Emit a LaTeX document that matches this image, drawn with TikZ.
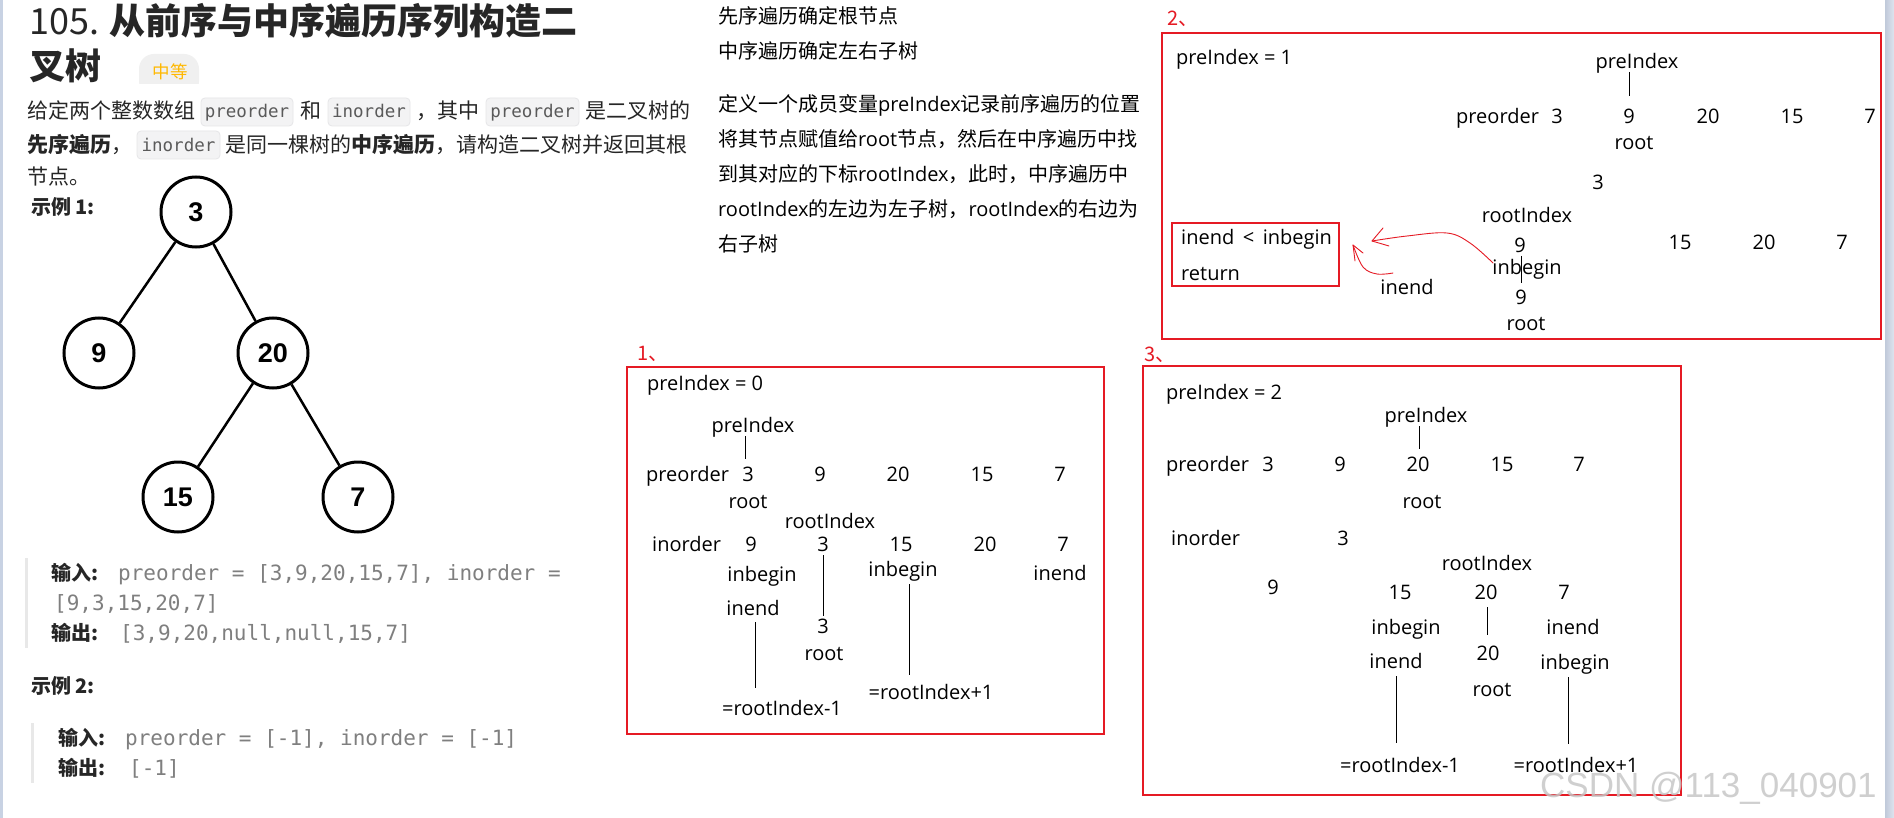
\documentclass[tikz,border=0pt]{standalone}
\usepackage{fontspec}
\setmainfont{Open Sans}
\newfontfamily\cjk{Noto Sans CJK SC}
\newfontfamily\monof{DejaVu Sans Mono}
\newfontfamily\arialf{Liberation Sans}
\definecolor{redline}{HTML}{E51A24}
\definecolor{txt}{HTML}{262626}
\definecolor{codebg}{HTML}{F3F3F4}
\definecolor{codebd}{HTML}{E6E6E8}
\definecolor{codetx}{HTML}{5A5A5A}
\definecolor{extx}{HTML}{7F7F7F}
\definecolor{badgebg}{HTML}{F0F0F0}
\definecolor{badgetx}{HTML}{FFB800}
\definecolor{strip}{HTML}{C8D2E3}
\definecolor{barc}{HTML}{E8E8E8}
\tikzset{
  lbl/.style={inner sep=0pt, anchor=base, yshift=-7pt, font=\fontsize{20}{24}\selectfont},
  lblw/.style={lbl, anchor=base west},
  redtxt/.style={inner sep=0pt, anchor=base west, yshift=-8pt, text=redline, font=\cjk\fontsize{20}{24}\selectfont},
  mtxt/.style={inner sep=0pt, anchor=base west, font=\fontsize{20}{24}\selectfont},
  frame/.style={draw=redline, line width=1.2pt},
  vl/.style={line width=1pt},
  redarrow/.style={draw=redline, line width=0.9pt, line cap=round, line join=round},
  body/.style={inner sep=0pt, anchor=base west, text=txt, font=\cjk\fontsize{21}{25}\selectfont},
  chip/.style={fill=codebg, draw=codebd, line width=0.8pt, rounded corners=4pt},
  chiptx/.style={inner sep=0pt, anchor=base, text=codetx, font=\monof\fontsize{17.5}{20}\selectfont},
  tnode/.style={circle, draw, line width=3pt, minimum size=70pt, inner sep=0pt, font=\arialf\bfseries\fontsize{27}{30}\selectfont},
  tedge/.style={line width=2.5pt},
  exlab/.style={inner sep=0pt, anchor=base west, text=txt, font=\cjk\bfseries\fontsize{20}{24}\selectfont},
  exmono/.style={inner sep=0pt, anchor=base west, text=extx, font=\monof\fontsize{21}{25}\selectfont},
}
\begin{document}
\begin{tikzpicture}[x=1pt,y=-1pt]
\useasboundingbox (0,0) rectangle (1894,818);
\fill[white] (0,0) rectangle (1894,818);
\fill[strip] (0,0) rectangle (3,818);
\shade[left color=strip!80!black!20!strip, right color=strip!60] (1885,0) rectangle (1894,818);

% ---------- left: problem ----------
\node[inner sep=0pt, anchor=base west, text=txt, font=\cjk\fontsize{36}{40}\selectfont] (title1) at (29,35) {105. \textbf{从前序与中序遍历序列构造二}};
\node[inner sep=0pt, anchor=base west, text=txt, font=\cjk\bfseries\fontsize{36}{40}\selectfont] (title2) at (29,80) {叉树};
\begin{scope}
  \clip (130,50) rectangle (210,83.5);
  \fill[badgebg, rounded corners=15pt] (139,54) rectangle (199,96);
\end{scope}
\node[inner sep=0pt, anchor=base, text=badgetx, font=\cjk\fontsize{17.5}{20}\selectfont] (badge) at (170,78.5) {中等};

% description line 1
\node[body] (d1a) at (27,119) {给定两个整数数组};
\draw[chip] (201,98) rectangle (293,126);
\node[chiptx] (c1) at (247,118) {preorder};
\node[body] (d1b) at (300,119) {和};
\draw[chip] (328,98) rectangle (410,126);
\node[chiptx] (c2) at (369,118) {inorder};
\node[body] (d1c) at (416,119) {，其中};
\draw[chip] (486,98) rectangle (579,126);
\node[chiptx] (c3) at (532.5,118) {preorder};
\node[body] (d1d) at (585,119) {是二叉树的};
% line 2
\node[body] (d2a) at (27,153) {\textbf{先序遍历}，};
\draw[chip] (137,131) rectangle (220,159);
\node[chiptx] (c4) at (178.5,152) {inorder};
\node[body] (d2b) at (225,153) {是同一棵树的\textbf{中序遍历}，请构造二叉树并返回其根};
% line 3
\node[body] (d3) at (27,185) {节点。};

\node[exlab] (ex1) at (31,215) {示例 1:};

% tree
\node[tnode] (n3) at (196,212) {3};
\node[tnode] (n9) at (99,353) {9};
\node[tnode] (n20) at (273,353) {20};
\node[tnode] (n15) at (178,497) {15};
\node[tnode] (n7) at (358,497) {7};
\draw[tedge] (n3) -- (n9);
\draw[tedge] (n3) -- (n20);
\draw[tedge] (n20) -- (n15);
\draw[tedge] (n20) -- (n7);

% example 1 block
\fill[barc] (25,558) rectangle (28,648);
\node[exlab] (in1) at (51,580) {输入:};
\node[exmono] (in1t) at (118,580) {preorder = [3,9,20,15,7], inorder =};
\node[exmono] (in1u) at (54,610) {[9,3,15,20,7]};
\node[exlab] (out1) at (51,640) {输出:};
\node[exmono] (out1t) at (120,640) {[3,9,20,null,null,15,7]};

\node[exlab] (ex2) at (31,693) {示例 2:};
\fill[barc] (31,723) rectangle (34,783);
\node[exlab] (in2) at (58,745) {输入:};
\node[exmono] (in2t) at (125,745) {preorder = [-1], inorder = [-1]};
\node[exlab] (out2) at (58,775) {输出:};
\node[exmono] (out2t) at (129,775) {[-1]};

% ---------- middle notes ----------
\node[mtxt] (m1) at (718,24) {\cjk 先序遍历确定根节点};
\node[mtxt] (m2) at (718,58.5) {\cjk 中序遍历确定左右子树};
\node[mtxt] (m3) at (718,111.5) {{\cjk 定义一个成员变量}preIndex{\cjk 记录前序遍历的位置}};
\node[mtxt] (m4) at (718,146.5) {{\cjk 将其节点赋值给}root{\cjk 节点，然后在中序遍历中找}};
\node[mtxt] (m5) at (718,181.5) {{\cjk 到其对应的下标}rootIndex{\cjk ，此时，中序遍历中}};
\node[mtxt] (m6) at (718,216.5) {rootIndex{\cjk 的左边为左子树，}rootIndex{\cjk 的右边为}};
\node[mtxt] (m7) at (718,251.5) {\cjk 右子树};

% ---------- panel 1 ----------
\node[redtxt] (t1) at (637,352) {1、};
\draw[frame] (627,367) rectangle (1104,734);
\node[lblw] (a0) at (647,383) {preIndex = 0};
\node[lbl] (api) at (753,425) {preIndex};
\coordinate (al1a) at (745,436); \coordinate (al1b) at (745,459);
\draw[vl] (al1a) -- (al1b);
\node[lblw] (apre) at (646,474) {preorder};
\node[lbl] (ap1) at (748,474) {3};
\node[lbl] (ap2) at (820,474) {9};
\node[lbl] (ap3) at (898,474) {20};
\node[lbl] (ap4) at (982,474) {15};
\node[lbl] (ap5) at (1060,474) {7};
\node[lbl] (aroot) at (748,501) {root};
\node[lbl] (ari) at (830,521) {rootIndex};
\node[lblw] (ain) at (652,544) {inorder};
\node[lbl] (ai1) at (751,544) {9};
\node[lbl] (ai2) at (823,544) {3};
\node[lbl] (ai3) at (901,544) {15};
\node[lbl] (ai4) at (985,544) {20};
\node[lbl] (ai5) at (1063,544) {7};
\node[lbl] (ab1) at (762,574) {inbegin};
\node[lbl] (ab2) at (903,569) {inbegin};
\node[lbl] (ae2) at (1060,573) {inend};
\node[lbl] (ae1) at (753,608) {inend};
\coordinate (al2a) at (823,555); \coordinate (al2b) at (823,616);
\draw[vl] (al2a) -- (al2b);
\node[lbl] (ar3) at (823,626) {3};
\node[lbl] (arr) at (824,653) {root};
\coordinate (al3a) at (755,622); \coordinate (al3b) at (755,688);
\draw[vl] (al3a) -- (al3b);
\node[lbl] (am1) at (782,708) {=rootIndex-1};
\coordinate (al4a) at (909,584); \coordinate (al4b) at (909,675);
\draw[vl] (al4a) -- (al4b);
\node[lbl] (ap1b) at (931,692) {=rootIndex+1};

% ---------- panel 2 ----------
\node[redtxt] (t2) at (1167,18) {2、};
\draw[frame] (1162,33) rectangle (1881,339);
\node[lblw] (b0) at (1176,58) {preIndex = 1};
\node[lbl] (bpi) at (1637,62) {preIndex};
\coordinate (bl1a) at (1629,72); \coordinate (bl1b) at (1629,96);
\draw[vl] (bl1a) -- (bl1b);
\node[lblw] (bpre) at (1456,117) {preorder};
\node[lbl] (bp1) at (1557,117) {3};
\node[lbl] (bp2) at (1629,117) {9};
\node[lbl] (bp3) at (1708,117) {20};
\node[lbl] (bp4) at (1792,117) {15};
\node[lbl] (bp5) at (1870,117) {7};
\node[lbl] (broot) at (1634,143) {root};
\node[lbl] (b3) at (1598,183) {3};
\node[lbl] (bri) at (1527,216) {rootIndex};
\node[lbl] (bi1) at (1520,245) {9};
\node[lbl] (bi3) at (1680,243) {15};
\node[lbl] (bi4) at (1764,243) {20};
\node[lbl] (bi5) at (1842,243) {7};
\node[lbl] (bbeg) at (1527,267) {inbegin};
\coordinate (bl2a) at (1521,256); \coordinate (bl2b) at (1521,283);
\draw[vl] (bl2a) -- (bl2b);
\node[lbl] (b9) at (1521,297) {9};
\node[lbl] (brr) at (1526,323) {root};
\node[lbl] (bend) at (1407,287) {inend};
\draw[frame] (1172,223) rectangle (1339,286);
\node[lblw] (bc1) at (1181,238) {inend \,<\, inbegin};
\node[lblw] (bc2) at (1181,273) {return};
% red arrows
\coordinate (ra1s) at (1493,263);
\coordinate (ra1t) at (1372,241);
\draw[redarrow] plot[smooth, tension=0.6] coordinates {(ra1s) (1470,243) (1447,233) (1407,236) (ra1t)};
\draw[redarrow] (1383,228) -- (ra1t) -- (1389,246);
\coordinate (ra2s) at (1393,273);
\coordinate (ra2t) at (1353,245);
\draw[redarrow] plot[smooth, tension=0.6] coordinates {(ra2s) (1377,274) (1363,267) (ra2t)};
\draw[redarrow] (1355,261) -- (ra2t) -- (1363,253);

% ---------- panel 3 ----------
\node[redtxt] (t3) at (1144,353) {3、};
\draw[frame] (1143,366) rectangle (1681,795);
\node[lblw] (c0) at (1166,392) {preIndex = 2};
\node[lbl] (cpi) at (1426,415) {preIndex};
\coordinate (cl1a) at (1419,426); \coordinate (cl1b) at (1419,449);
\draw[vl] (cl1a) -- (cl1b);
\node[lblw] (cpre) at (1166,464) {preorder};
\node[lbl] (cp1) at (1268,464) {3};
\node[lbl] (cp2) at (1340,464) {9};
\node[lbl] (cp3) at (1418,464) {20};
\node[lbl] (cp4) at (1502,464) {15};
\node[lbl] (cp5) at (1579,464) {7};
\node[lbl] (croot) at (1422,501) {root};
\node[lblw] (cin) at (1171,538) {inorder};
\node[lbl] (ci2) at (1343,538) {3};
\node[lbl] (cri) at (1487,563) {rootIndex};
\node[lbl] (ci1) at (1273,587) {9};
\node[lbl] (ci3) at (1400,592) {15};
\node[lbl] (ci4) at (1486,592) {20};
\node[lbl] (ci5) at (1564,592) {7};
\node[lbl] (cb1) at (1406,627) {inbegin};
\node[lbl] (ce1) at (1573,627) {inend};
\coordinate (cl2a) at (1487,607); \coordinate (cl2b) at (1487,635);
\draw[vl] (cl2a) -- (cl2b);
\node[lbl] (c20) at (1488,653) {20};
\node[lbl] (ce2) at (1396,661) {inend};
\node[lbl] (cb2) at (1575,662) {inbegin};
\node[lbl] (crr) at (1492,689) {root};
\coordinate (cl3a) at (1396,676); \coordinate (cl3b) at (1396,743);
\draw[vl] (cl3a) -- (cl3b);
\coordinate (cl4a) at (1568,677); \coordinate (cl4b) at (1568,744);
\draw[vl] (cl4a) -- (cl4b);
\node[lbl] (cm1) at (1400,765) {=rootIndex-1};
\node[lbl] (cm2) at (1576,765) {=rootIndex+1};

% watermark
\node[inner sep=0pt, anchor=base west, text=black!22, font=\arialf\fontsize{35}{40}\selectfont, opacity=0.85] (wm) at (1540,797.5) {CSDN @113\_040901};
\end{tikzpicture}
\end{document}
